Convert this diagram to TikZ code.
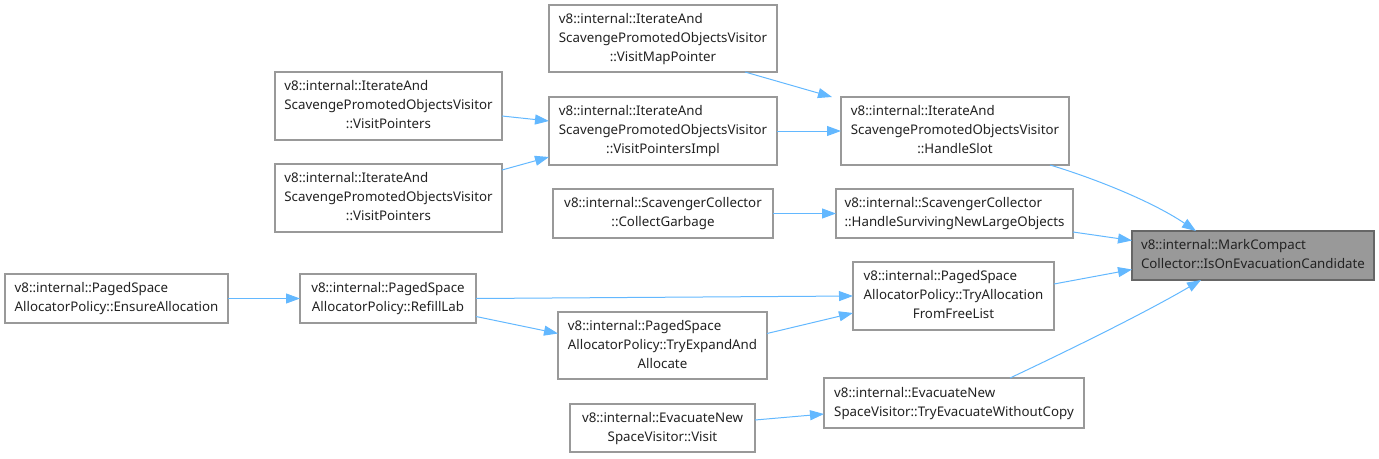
\documentclass[tikz,border=0pt]{standalone}
\usepackage{fontspec}
\setmainfont{Noto Sans}
\usetikzlibrary{arrows.meta,calc}
\definecolor{edgeblue}{HTML}{63B8FF}
\definecolor{boxborder}{HTML}{999999}
\definecolor{mainfill}{HTML}{999999}
\definecolor{mainborder}{HTML}{666666}
\definecolor{txt}{HTML}{222222}
\newcommand\fnlines[1]{\begin{tabular}{@{}l@{}}#1\end{tabular}}
\newcommand\fnlast[1]{\multicolumn{1}{@{}c@{}}{#1}}
\begin{document}
\begin{tikzpicture}[x=1pt,y=-1pt,
  fn/.style={draw=boxborder,line width=1.2pt,fill=white,text=txt,
    font=\fontsize{13.3}{19}\selectfont,inner sep=0pt,outer sep=0pt},
  mainfn/.style={fn,fill=mainfill,draw=mainborder},
  call/.style={draw=edgeblue,line width=1pt,-{Triangle[length=14pt,width=10pt]}}]
\useasboundingbox (0,0) rectangle (1379,458);
\node[mainfn,minimum width=242pt,minimum height=49pt] (ison) at (1253,255.5) {\fnlines{v8::internal::MarkCompact\\\fnlast{Collector::IsOnEvacuationCandidate}}};
\node[fn,minimum width=228pt,minimum height=68pt] (hs) at (955,131) {\fnlines{v8::internal::IterateAnd\\ScavengePromotedObjectsVisitor\\\fnlast{::HandleSlot}}};
\node[fn,minimum width=237pt,minimum height=49pt] (hsn) at (954.5,213.5) {\fnlines{v8::internal::ScavengerCollector\\\fnlast{::HandleSurvivingNewLargeObjects}}};
\node[fn,minimum width=201pt,minimum height=68pt] (tafl) at (953.5,296) {\fnlines{v8::internal::PagedSpace\\AllocatorPolicy::TryAllocation\\\fnlast{FromFreeList}}};
\node[fn,minimum width=260pt,minimum height=50pt] (tewc) at (954,403) {\fnlines{v8::internal::EvacuateNew\\\fnlast{SpaceVisitor::TryEvacuateWithoutCopy}}};
\node[fn,minimum width=228pt,minimum height=67pt] (vmp) at (663,38.5) {\fnlines{v8::internal::IterateAnd\\ScavengePromotedObjectsVisitor\\\fnlast{::VisitMapPointer}}};
\node[fn,minimum width=228pt,minimum height=68pt] (vpi) at (663,131) {\fnlines{v8::internal::IterateAnd\\ScavengePromotedObjectsVisitor\\\fnlast{::VisitPointersImpl}}};
\node[fn,minimum width=220pt,minimum height=49pt] (cg) at (663,213.5) {\fnlines{v8::internal::ScavengerCollector\\\fnlast{::CollectGarbage}}};
\node[fn,minimum width=209pt,minimum height=67pt] (tea) at (662.5,345.5) {\fnlines{v8::internal::PagedSpace\\AllocatorPolicy::TryExpandAnd\\\fnlast{Allocate}}};
\node[fn,minimum width=185pt,minimum height=48pt] (vis) at (662.5,428) {\fnlines{v8::internal::EvacuateNew\\\fnlast{SpaceVisitor::Visit}}};
\node[fn,minimum width=227pt,minimum height=68pt] (vpa) at (388.5,106) {\fnlines{v8::internal::IterateAnd\\ScavengePromotedObjectsVisitor\\\fnlast{::VisitPointers}}};
\node[fn,minimum width=227pt,minimum height=68pt] (vpb) at (388.5,198) {\fnlines{v8::internal::IterateAnd\\ScavengePromotedObjectsVisitor\\\fnlast{::VisitPointers}}};
\node[fn,minimum width=176pt,minimum height=49pt] (rl) at (388,298.5) {\fnlines{v8::internal::PagedSpace\\\fnlast{AllocatorPolicy::RefillLab}}};
\node[fn,minimum width=223pt,minimum height=49pt] (ea) at (116.5,298.5) {\fnlines{v8::internal::PagedSpace\\\fnlast{AllocatorPolicy::EnsureAllocation}}};
% edges
\draw[call] ([xshift=-19pt]hs.south east) .. controls (1090,177) and (1150,200) .. ([xshift=-57pt]ison.north);
\draw[call] ([yshift=6pt]hsn.south east) -- ([yshift=15pt]ison.west);
\draw[call] ([yshift=12pt]tafl.east) -- ([yshift=-14pt]ison.west);
\draw[call] ([xshift=56pt]tewc.north) .. controls (1080,345) and (1150,310) .. ([xshift=-52pt]ison.south);
\draw[call] ([xshift=-32pt]vmp.south east) -- ([xshift=-9pt]hs.north west);
\draw[call] (vpi.east) -- (hs.west);
\draw[call] ([yshift=-10pt]vpa.east) -- ([yshift=10pt]vpi.west);
\draw[call] ([yshift=28pt]vpb.east) -- ([yshift=-26pt]vpi.west);
\draw[call] (cg.east) -- (hsn.west);
\draw[call] (rl.east) -- (tafl.west);
\draw[call] ([yshift=-18pt]rl.east) -- ([yshift=12pt]tea.west);
\draw[call] ([yshift=12pt]tea.east) -- ([yshift=-17pt]tafl.west);
\draw[call] ([yshift=8pt]vis.east) -- ([yshift=-11pt]tewc.west);
\draw[call] (ea.east) -- (rl.west);
\end{tikzpicture}
\end{document}
